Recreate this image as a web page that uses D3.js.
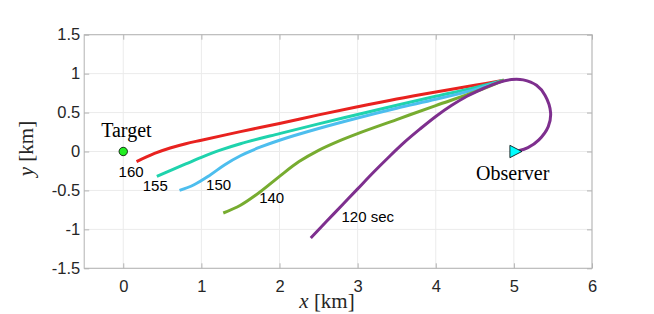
<!DOCTYPE html>
<html><head><meta charset="utf-8">
<script src="https://cdn.jsdelivr.net/npm/d3@7"></script>
<style>
html,body{margin:0;padding:0;background:#fff;}
svg{display:block;}
</style></head>
<body>
<svg id="chart" width="654" height="314"></svg>
<script>
// ---- data (km) ----
const xTicks = [0, 1, 2, 3, 4, 5, 6];
const yTicks = [-1.5, -1, -0.5, 0, 0.5, 1, 1.5];
const seriesNames = ["160", "155", "150", "140", "120 sec"];
const seriesColors = ["#e8221f", "#1fd3ad", "#4dbeee", "#77ac30", "#7e2f8e"];
const red160 = [[0.17,-0.13],[0.4,-0.025],[0.6,0.045],[0.8,0.10],[1.0,0.145],[1.5,0.255],[2.0,0.36],[2.5,0.47],[3.0,0.575],[3.5,0.675],[4.0,0.765],[4.5,0.85],[4.87,0.915]];
const teal155 = [[0.43,-0.32],[0.6,-0.245],[0.8,-0.16],[1.0,-0.075],[1.25,0.02],[1.5,0.10],[2.0,0.23],[2.5,0.355],[3.0,0.475],[3.5,0.595],[4.0,0.71],[4.5,0.82],[4.87,0.915]];
const blue150 = [[0.72,-0.50],[0.9,-0.43],[1.1,-0.31],[1.3,-0.17],[1.5,-0.055],[1.75,0.055],[2.0,0.145],[2.5,0.295],[3.0,0.43],[3.5,0.555],[4.0,0.67],[4.5,0.795],[4.87,0.915]];
const green140 = [[1.28,-0.79],[1.5,-0.69],[1.75,-0.52],[2.0,-0.32],[2.25,-0.13],[2.5,0.015],[2.75,0.13],[3.0,0.23],[3.5,0.41],[4.0,0.59],[4.5,0.765],[4.87,0.915]];
const purple120 = [[2.40,-1.11],[2.60,-0.90],[2.80,-0.69],[3.00,-0.48],[3.20,-0.27],[3.40,-0.07],[3.60,0.12],[3.80,0.29],[4.00,0.45],[4.20,0.59],[4.40,0.71],[4.60,0.805],[4.80,0.885],[4.97,0.925],[5.12,0.92],[5.29,0.85],[5.40,0.72],[5.47,0.50],[5.44,0.32],[5.32,0.15],[5.18,0.05],[5.06,0.01]];
const seriesData = [red160, teal155, blue150, green140, purple120];
const labelPos = [[0.10,-0.26],[0.41,-0.44],[1.22,-0.42],[1.90,-0.585],[3.13,-0.84]];
const target = [0, 0];
const observer = [5, 0];

// ---- layout ----
const L = 84.2, R = 592, T = 34.7, B = 268.3;
const x = d3.scaleLinear().domain([-0.5, 6]).range([L, R]);
const y = d3.scaleLinear().domain([-1.5, 1.5]).range([B, T]);
const svg = d3.select("#chart");
const tickColor = "#262626";
const boxColor = "#b3b3b3";

// grid
const grid = svg.append("g");
grid.selectAll(".gx").data(xTicks).join("line")
  .attr("x1", d => x(d)).attr("x2", d => x(d)).attr("y1", T).attr("y2", B)
  .attr("stroke", "#ebebeb").attr("stroke-width", 1);
grid.selectAll(".gy").data(yTicks).join("line")
  .attr("y1", d => y(d)).attr("y2", d => y(d)).attr("x1", L).attr("x2", R)
  .attr("stroke", "#ebebeb").attr("stroke-width", 1);

// axes
function styleAxis(g, showLabels) {
  g.select(".domain").remove();
  g.selectAll(".tick line").attr("stroke", boxColor);
  g.selectAll(".tick text").attr("fill", tickColor)
    .style("font-family", "'Liberation Sans', Arial, sans-serif").style("font-size", "16.5px");
  if (!showLabels) g.selectAll(".tick text").remove();
}
svg.append("g").attr("transform", `translate(0,${B})`)
  .call(d3.axisBottom(x).tickValues(xTicks).tickFormat(d3.format("d")).tickSizeInner(-5).tickSizeOuter(0).tickPadding(12))
  .call(g => styleAxis(g, true));
svg.append("g").attr("transform", `translate(0,${T})`)
  .call(d3.axisTop(x).tickValues(xTicks).tickSizeInner(-5).tickSizeOuter(0))
  .call(g => styleAxis(g, false));
svg.append("g").attr("transform", `translate(${L},0)`)
  .call(d3.axisLeft(y).tickValues(yTicks).tickFormat(d => String(d)).tickSizeInner(-5).tickSizeOuter(0).tickPadding(4))
  .call(g => styleAxis(g, true));
svg.append("g").attr("transform", `translate(${R},0)`)
  .call(d3.axisRight(y).tickValues(yTicks).tickSizeInner(-5).tickSizeOuter(0))
  .call(g => styleAxis(g, false));

svg.append("rect").attr("x", L).attr("y", T).attr("width", R - L).attr("height", B - T)
  .attr("fill", "none").attr("stroke", boxColor).attr("stroke-width", 1);

// curves
const line = d3.line().x(d => x(d[0])).y(d => y(d[1])).curve(d3.curveCatmullRom.alpha(0.5));
svg.append("g").selectAll("path").data(seriesData).join("path")
  .attr("d", d => line(d))
  .attr("fill", "none")
  .attr("stroke", (d, i) => seriesColors[i])
  .attr("stroke-width", 3)
  .attr("stroke-linecap", "butt")
  .attr("stroke-linejoin", "round");

// series labels
svg.append("g").selectAll("text").data(seriesNames).join("text")
  .attr("x", (d, i) => x(labelPos[i][0]))
  .attr("y", (d, i) => y(labelPos[i][1]))
  .attr("text-anchor", "middle").attr("dominant-baseline", "central")
  .style("font-family", "'Liberation Sans', Arial, sans-serif").style("font-size", "15px")
  .attr("fill", "#000")
  .text(d => d);

// markers
svg.append("circle").attr("cx", x(target[0])).attr("cy", y(target[1])).attr("r", 4.2)
  .attr("fill", "#22ee22").attr("stroke", "#000").attr("stroke-width", 0.8);
const ox = x(observer[0]), oy = y(observer[1]);
svg.append("path").attr("d", `M${ox-4},${oy-6.2}L${ox+8},${oy}L${ox-4},${oy+6.2}Z`)
  .attr("fill", "#00ffff").attr("stroke", "#000").attr("stroke-width", 0.8);

// annotations
const serif = "'Liberation Serif', 'Times New Roman', serif";
svg.append("text").attr("x", x(0.04)).attr("y", y(0.19)).attr("text-anchor", "middle")
  .style("font-family", serif).style("font-size", "20px").attr("fill", "#000").text("Target");
svg.append("text").attr("x", x(4.985)).attr("y", y(-0.366)).attr("text-anchor", "middle")
  .style("font-family", serif).style("font-size", "20px").attr("fill", "#000").text("Observer");

// axis labels
const xl = svg.append("text").attr("x", 327).attr("y", 308).attr("text-anchor", "middle")
  .style("font-family", serif).style("font-size", "21px").attr("fill", tickColor);
xl.append("tspan").style("font-style", "italic").text("x");
xl.append("tspan").text(" [km]");
const yl = svg.append("text").attr("transform", `translate(33,148.5) rotate(-90)`).attr("text-anchor", "middle")
  .style("font-family", serif).style("font-size", "21px").attr("fill", tickColor);
yl.append("tspan").style("font-style", "italic").text("y");
yl.append("tspan").text(" [km]");
</script>
</body></html>
